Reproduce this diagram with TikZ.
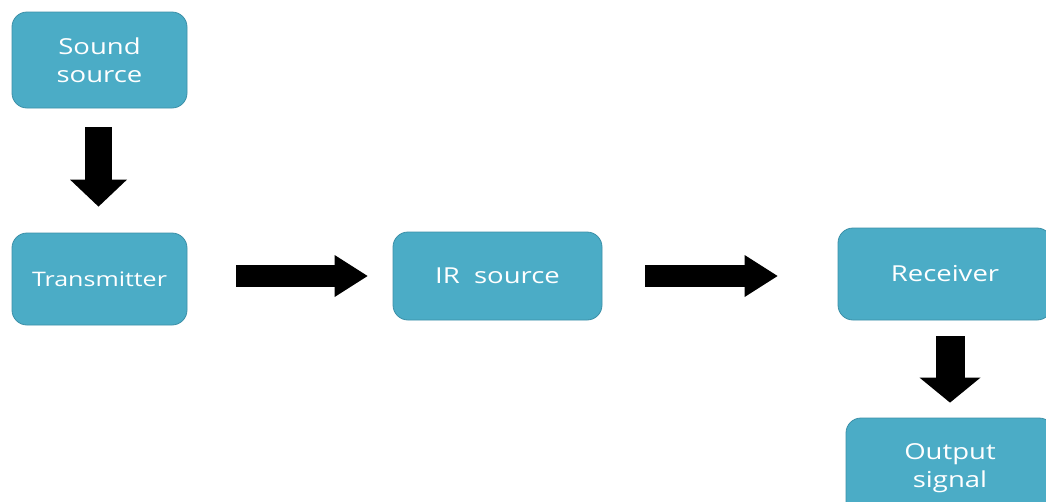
\documentclass[tikz,border=0pt]{standalone}
\usepackage{fontspec}
\usetikzlibrary{arrows.meta}
\newfontfamily\lblfont[FakeStretch=1.25]{Open Sans}
\definecolor{boxfill}{HTML}{4BACC6}
\definecolor{boxline}{HTML}{3C90A8}
\tikzset{
  blk/.style={draw=boxline, line width=0.8pt, fill=boxfill, rounded corners=15pt,
    text=white, font=\lblfont\fontsize{22}{28}\selectfont, align=center,
    inner sep=0pt},
  fatarrow/.style n args={3}{line width=#1, draw=black,
    -{Triangle[length=#3, width=#2, line width=0pt]}}
}
\begin{document}
\begin{tikzpicture}[x=1pt,y=-1pt]
  \useasboundingbox (0,0) rectangle (1046,501);
  \clip (0,0) rectangle (1046,501);
  \fill[white] (0,0) rectangle (1046,501);

  % blocks
  \node[blk, minimum width=175pt, minimum height=96pt] (sound) at (99.5,60) {Sound\\source};
  \node[blk, minimum width=175pt, minimum height=92pt,
        font=\lblfont\fontsize{20}{24}\selectfont] (trans) at (99.5,279) {Transmitter};
  \node[blk, minimum width=209pt, minimum height=88pt] (ir) at (497.5,276) {IR\ \ source};
  \node[blk, minimum width=214pt, minimum height=92pt] (recv) at (945,274) {Receiver};
  \node[blk, minimum width=208pt, minimum height=100pt] (out) at (950,468) {Output\\signal};

  % block arrows between the stages
  \draw[fatarrow={27pt}{57pt}{27pt}, shorten <=19pt, shorten >=26pt]
    ([xshift=-1pt]sound.south) -- ([xshift=-1pt]trans.north);
  \draw[fatarrow={22pt}{42pt}{33pt}, shorten <=49pt, shorten >=25pt]
    (trans.east |- ir.west) -- (ir.west);
  \draw[fatarrow={22pt}{42pt}{33pt}, shorten <=43pt, shorten >=60pt]
    (ir.east) -- (recv.west |- ir.east);
  \draw[fatarrow={29pt}{61pt}{25pt}, shorten <=16pt, shorten >=15pt]
    (recv.south -| out.north) -- (out.north);
\end{tikzpicture}
\end{document}
